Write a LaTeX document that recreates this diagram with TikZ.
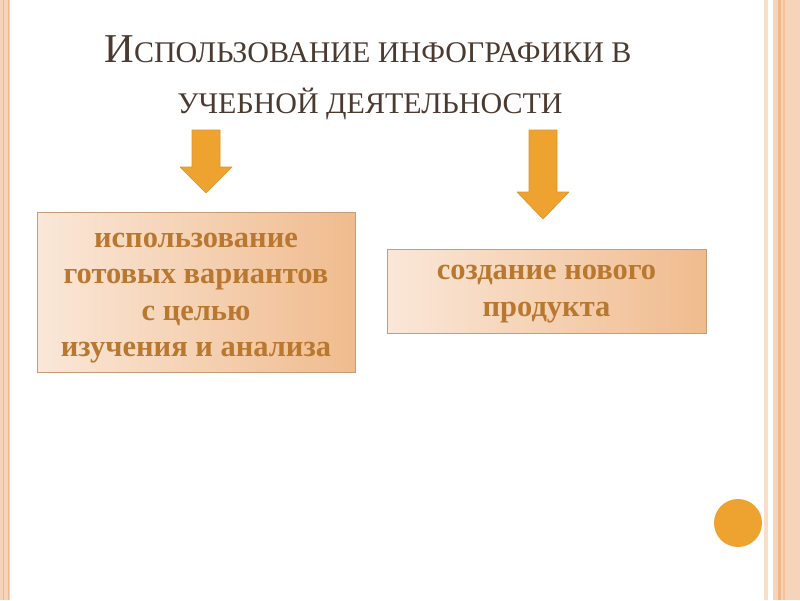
\documentclass[tikz,border=0pt]{standalone}
\usepackage{fontspec}
\setmainfont{Liberation Serif}
\newfontfamily\headfont{Liberation Serif}
\usetikzlibrary{positioning}
\definecolor{peach}{HTML}{F6D4B9}
\definecolor{peachdark}{HTML}{EFB888}
\definecolor{arrowfill}{HTML}{EEA331}
\definecolor{arrowline}{HTML}{DC942C}
\definecolor{headbrown}{HTML}{4B3A30}
\definecolor{boxtextcol}{HTML}{B87830}
\definecolor{boxline}{HTML}{C99C78}
\tikzset{
  infobox/.style={draw=boxline,line width=0.9pt,left color=peach!55!white,right color=peachdark!95!white,
    shading angle=90,inner sep=0pt},
  boxtext/.style={align=center,text=boxtextcol,inner sep=0pt,
    font=\bfseries\fontsize{30.5}{36.3}\selectfont},
  headline/.style={anchor=base,text=headbrown,inner sep=0pt}
}

\begin{document}
\begin{tikzpicture}[x=1pt,y=-1pt]
\useasboundingbox (0,0) rectangle (800,600);
\fill[white] (0,0) rectangle (800,600);
% side stripes
\fill[peach] (0,0) rectangle (10,600);
\draw[peachdark,line width=0.6pt] (3,0) -- (3,600) (8,0) -- (8,600);
\fill[peach!80!white] (764,0) rectangle (768,600);
\fill[peach] (773,0) rectangle (800,600);
\fill[peachdark] (778,0) rectangle (781,600);
\fill[peachdark!60!peach] (783,0) rectangle (785,600);
% heading, two lines
\node[headline] (headA) at (368,62) {\headfont{\fontsize{41}{41}\selectfont И}{\fontsize{30}{30}\selectfont СПОЛЬЗОВАНИЕ ИНФОГРАФИКИ В}};
\node[headline] (headB) at (370,113) {\headfont\fontsize{30}{30}\selectfont УЧЕБНОЙ ДЕЯТЕЛЬНОСТИ};
% block arrows: centre / head start / tip
\foreach \cx/\hy/\ty in {206/167/193, 543/192/219} {
  \draw[fill=arrowfill,draw=arrowline,line width=0.6pt,line join=round]
    (\cx-14,130) -- (\cx+14,130) -- (\cx+14,\hy) -- (\cx+26,\hy) -- (\cx,\ty)
    -- (\cx-26,\hy) -- (\cx-14,\hy) -- cycle;
}
% boxes
\node[infobox,minimum width=318pt,minimum height=160pt] (useBox) at (196,292) {};
\node[boxtext] (useText) at ([yshift=-6pt]useBox.center)
  {использование\\ готовых вариантов\\ с целью\\ изучения и анализа};
\node[infobox,minimum width=319pt,minimum height=84pt] (newBox) at (546.5,291) {};
\node[boxtext] (newText) at ([yshift=-3pt]newBox.center)
  {создание нового\\ продукта};
% dot
\fill[arrowfill] (738,523) circle (24);
\end{tikzpicture}
\end{document}
